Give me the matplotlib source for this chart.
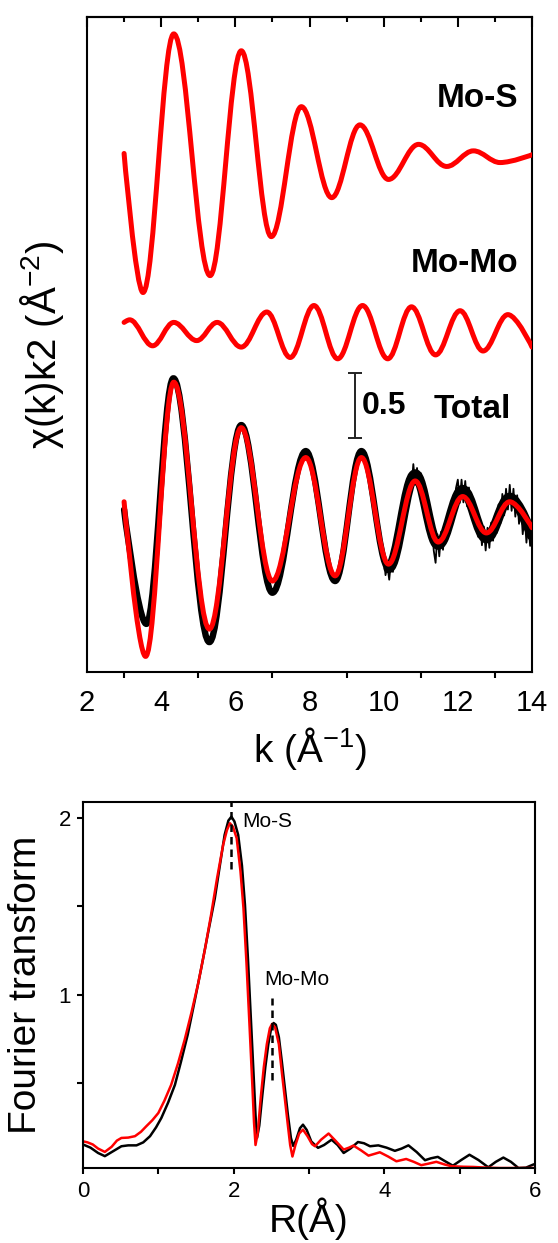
import matplotlib
matplotlib.use("Agg")
import matplotlib.pyplot as plt
from matplotlib.path import Path
from matplotlib.patches import PathPatch

plt.rcParams["font.family"] = ["Liberation Sans", "DejaVu Sans"]
plt.rcParams["mathtext.default"] = "regular"

RED = "#ff0000"

# --- chi(k)k^2 panel: turning points (k, value incl. offset)
MOS_K = [3.00, 3.51, 4.34, 5.32, 6.16, 6.97, 7.78, 8.60, 9.36, 10.13, 10.94, 11.70,
         12.42, 13.14, 14.0]
MOS_Y = [3.99, 2.92, 4.91, 3.05, 4.78, 3.35, 4.35, 3.65, 4.21, 3.79, 4.06, 3.89,
         4.01, 3.92, 3.98]

MOMO_K = [3.00, 3.15, 3.77, 4.34, 4.96, 5.51, 6.16, 6.85, 7.48, 8.12, 8.76, 9.43,
          10.11, 10.75, 11.40, 12.06, 12.68, 13.35, 14.0]
MOMO_Y = [2.69, 2.71, 2.51, 2.69, 2.55, 2.69, 2.50, 2.77, 2.42, 2.82, 2.41, 2.82,
          2.41, 2.81, 2.44, 2.78, 2.47, 2.75, 2.50]

FIT_K = [3.00, 3.58, 4.34, 5.30, 6.16, 7.00, 7.90, 8.69, 9.40, 10.13, 10.85, 11.47,
         12.13, 12.77, 13.40, 14.0]
FIT_Y = [1.31, 0.12, 2.23, 0.33, 1.88, 0.70, 1.65, 0.74, 1.65, 0.83, 1.47, 1.00,
         1.35, 1.07, 1.31, 1.11]

DATA_K = [3.00, 3.60, 4.33, 5.30, 6.16, 7.00, 7.90, 8.69, 9.40, 10.13, 10.85, 11.47,
          12.13, 12.77, 13.40, 14.0]
DATA_Y = [1.25, 0.37, 2.26, 0.23, 1.90, 0.61, 1.70, 0.70, 1.70, 0.80, 1.52, 0.98,
          1.40, 1.03, 1.34, 1.05]

# noisy high-k part of the measured data
NOISE_K = [10.00, 10.05, 10.10, 10.15, 10.20, 10.25, 10.30, 10.35, 10.40, 10.45,
           10.50, 10.55, 10.60, 10.65, 10.70, 10.75, 10.80, 10.85, 10.90, 10.95,
           11.00, 11.05, 11.10, 11.15, 11.20, 11.25, 11.30, 11.35, 11.40, 11.45,
           11.50, 11.55, 11.60, 11.65, 11.70, 11.75, 11.80, 11.85, 11.90, 11.95,
           12.00, 12.05, 12.10, 12.15, 12.20, 12.25, 12.30, 12.35, 12.40, 12.45,
           12.50, 12.55, 12.60, 12.65, 12.70, 12.75, 12.80, 12.85, 12.90, 12.95,
           13.00, 13.05, 13.10, 13.15, 13.20, 13.25, 13.30, 13.35, 13.40, 13.45,
           13.50, 13.55, 13.60, 13.65, 13.70, 13.75, 13.80, 13.85, 13.90, 13.95,
           14.00]
NOISE_Y = [0.90, 0.745, 0.82, 0.71, 0.86, 0.77, 0.95, 0.865, 1.07, 1.01,
           1.25, 1.175, 1.39, 1.32, 1.52, 1.415, 1.60, 1.44, 1.57, 1.39,
           1.53, 1.32, 1.41, 1.185, 1.29, 1.055, 1.15, 0.935, 0.84, 1.06,
           0.89, 1.08, 0.94, 1.145, 1.01, 1.22, 1.10, 1.32, 1.22, 1.415,
           1.48, 1.30, 1.48, 1.305, 1.47, 1.275, 1.42, 1.21, 1.34, 1.135,
           1.26, 1.04, 1.17, 0.975, 1.12, 0.935, 1.11, 0.955, 1.15, 1.01,
           1.21, 1.07, 1.29, 1.145, 1.37, 1.205, 1.41, 1.25, 1.44, 1.24,
           1.41, 1.195, 1.36, 1.14, 1.285, 1.06, 1.21, 0.995, 1.16, 0.97,
           1.11]

SCALE_BAR_K = 9.22
SCALE_BAR_MID = 2.05
SCALE_BAR_LEN = 0.5

# --- Fourier transform panel
FT_R_DATA = [0.00, 0.10, 0.20, 0.29, 0.40, 0.51, 0.60, 0.71, 0.80, 0.89,
             0.97, 1.04, 1.13, 1.22, 1.30, 1.39, 1.48, 1.57, 1.66, 1.75,
             1.82, 1.88, 1.93, 1.97, 2.01, 2.06, 2.11, 2.15, 2.19, 2.23,
             2.27, 2.29, 2.31, 2.34, 2.38, 2.42, 2.46, 2.50, 2.53, 2.56,
             2.60, 2.64, 2.68, 2.72, 2.76, 2.79, 2.83, 2.88, 2.92, 2.97,
             3.03, 3.12, 3.20, 3.30, 3.38, 3.46, 3.55, 3.65, 3.73, 3.81,
             3.92, 4.03, 4.14, 4.23, 4.32, 4.43, 4.54, 4.62, 4.71, 4.80,
             4.91, 5.02, 5.13, 5.25, 5.38, 5.48, 5.58, 5.68, 5.78, 5.88,
             5.98, 6.00]
FT_DATA = [0.153, 0.135, 0.105, 0.087, 0.115, 0.143, 0.148, 0.148, 0.165, 0.200,
           0.250, 0.303, 0.390, 0.490, 0.620, 0.774, 0.960, 1.151, 1.350, 1.546,
           1.740, 1.904, 1.985, 2.007, 1.980, 1.904, 1.730, 1.508, 1.200, 0.850,
           0.500, 0.320, 0.190, 0.260, 0.430, 0.590, 0.720, 0.815, 0.840, 0.830,
           0.760, 0.620, 0.470, 0.320, 0.190, 0.145, 0.180, 0.245, 0.265, 0.235,
           0.170, 0.134, 0.150, 0.180, 0.150, 0.105, 0.130, 0.167, 0.160, 0.143,
           0.148, 0.135, 0.117, 0.130, 0.148, 0.110, 0.064, 0.075, 0.083, 0.060,
           0.033, 0.065, 0.095, 0.065, 0.024, 0.055, 0.079, 0.055, 0.020, 0.022,
           0.040, 0.042]

FT_R_FIT = [0.00, 0.06, 0.13, 0.20, 0.29, 0.38, 0.45, 0.51, 0.60, 0.69,
            0.77, 0.84, 0.92, 1.00, 1.08, 1.17, 1.26, 1.35, 1.44, 1.53,
            1.62, 1.70, 1.78, 1.86, 1.91, 1.95, 1.99, 2.04, 2.09, 2.13,
            2.17, 2.21, 2.25, 2.27, 2.29, 2.32, 2.36, 2.40, 2.44, 2.48,
            2.51, 2.55, 2.60, 2.64, 2.68, 2.72, 2.75, 2.78, 2.82, 2.87,
            2.92, 2.98, 3.04, 3.08, 3.16, 3.26, 3.35, 3.46, 3.53, 3.59,
            3.69, 3.79, 3.87, 3.94, 4.05, 4.16, 4.23, 4.29, 4.39, 4.49,
            4.59, 4.69, 4.80, 4.89, 5.05, 5.18, 5.35, 5.53, 5.80, 6.00]
FT_FIT = [0.171, 0.165, 0.153, 0.130, 0.111, 0.140, 0.175, 0.190, 0.192, 0.200,
          0.225, 0.256, 0.290, 0.331, 0.400, 0.490, 0.610, 0.746, 0.900, 1.066,
          1.260, 1.452, 1.660, 1.847, 1.930, 1.970, 1.950, 1.885, 1.700, 1.490,
          1.180, 0.830, 0.470, 0.280, 0.150, 0.220, 0.420, 0.590, 0.720, 0.810,
          0.835, 0.815, 0.720, 0.560, 0.410, 0.260, 0.150, 0.085, 0.150, 0.215,
          0.237, 0.200, 0.155, 0.143, 0.180, 0.215, 0.175, 0.124, 0.135, 0.147,
          0.120, 0.090, 0.100, 0.109, 0.085, 0.058, 0.065, 0.071, 0.055, 0.036,
          0.045, 0.055, 0.040, 0.030, 0.027, 0.026, 0.022, 0.020, 0.020, 0.020]

PEAK_LABELS = ["Mo-S", "Mo-Mo"]
PEAK_R = [1.96, 2.51]
PEAK_DASH = [(1.71, 2.09), (0.52, 0.98)]
PEAK_TEXT_XY = [(2.12, 1.98), (2.40, 1.085)]

W, H = 558, 1243
fig = plt.figure(figsize=(W / 100, H / 100), dpi=100)


def px_rect(left, top, right, bottom):
    return [left / W, 1 - bottom / H, (right - left) / W, (bottom - top) / H]


def smooth_line(ax, ks, ys, free_start=True, free_end=True, **kw):
    # smooth curve through the turning points (flat tangent at each extremum)
    verts = [(ks[0], ys[0])]
    codes = [Path.MOVETO]
    n = len(ks)
    for i in range(n - 1):
        k0, y0, k1, y1 = ks[i], ys[i], ks[i + 1], ys[i + 1]
        dk = k1 - k0
        c0 = (k0, y0) if (i == 0 and free_start) else (k0 + 0.363 * dk, y0)
        c1 = (k1, y1) if (i == n - 2 and free_end) else (k1 - 0.363 * dk, y1)
        verts += [c0, c1, (k1, y1)]
        codes += [Path.CURVE4] * 3
    patch = PathPatch(Path(verts, codes), fill=False, capstyle="round",
                      joinstyle="round", **kw)
    ax.add_patch(patch)
    return patch


# ---------------- top panel
ax1 = fig.add_axes(px_rect(87, 17, 532, 672))
smooth_line(ax1, MOS_K, MOS_Y, edgecolor=RED, lw=3.6, zorder=3)
smooth_line(ax1, MOMO_K, MOMO_Y, edgecolor=RED, lw=3.6, zorder=3)
smooth_line(ax1, DATA_K, DATA_Y, edgecolor="black", lw=4.6, zorder=2)
i_hi = DATA_K.index(10.13)
smooth_line(ax1, DATA_K[i_hi:], DATA_Y[i_hi:], free_start=False,
            edgecolor="black", lw=7.5, zorder=2)
ax1.plot(NOISE_K, NOISE_Y, color="black", lw=1.3, zorder=2.5)
smooth_line(ax1, FIT_K, FIT_Y, edgecolor=RED, lw=3.6, zorder=3)
ax1.errorbar(SCALE_BAR_K, SCALE_BAR_MID, yerr=SCALE_BAR_LEN / 2, color="#222222",
             lw=1.4, capsize=5, capthick=1.4)

ax1.set_xlim(2, 14)
ax1.set_ylim(0, 5.04)
ax1.set_yticks([])
ax1.set_xticks(range(2, 15, 2))
ax1.set_xticks(range(3, 14, 2), minor=True)
ax1.tick_params(axis="x", which="major", length=0, pad=12, labelsize=21)
ax1.tick_params(axis="x", which="minor", direction="out", length=4.5, width=1.5)
for s in ax1.spines.values():
    s.set_linewidth(1.5)
top = ax1.secondary_xaxis("top")
top.set_xticks(range(2, 15, 2))
top.set_xticks(range(3, 14, 2), minor=True)
top.tick_params(which="major", direction="in", length=7, width=1.5, labeltop=False)
top.tick_params(which="minor", direction="in", length=3.5, width=1.5)
top.spines["top"].set_linewidth(1.5)

bold = dict(fontsize=24, fontweight="bold", va="center")
ax1.text(13.62, 4.41, "Mo-S", ha="right", **bold)
ax1.text(13.62, 3.14, "Mo-Mo", ha="right", **bold)
ax1.text(9.41, 2.05, "0.5", ha="left", fontsize=23, fontweight="bold",
         va="center")
ax1.text(11.36, 2.02, "Total", ha="left", **bold)

fig.text(42 / W, 1 - 345 / H, "χ(k)k2 (Å$^{-2}$)", rotation=90,
         ha="center", va="center", fontsize=29)
fig.text(310 / W, 1 - 748 / H, "k (Å$^{-1}$)", ha="center", va="center",
         fontsize=28)

# ---------------- bottom panel
ax2 = fig.add_axes(px_rect(83, 802, 535, 1168))
ax2.plot(FT_R_DATA, FT_DATA, color="black", lw=1.8, solid_joinstyle="round")
ax2.plot(FT_R_FIT, FT_FIT, color=RED, lw=1.8, solid_joinstyle="round")
for r, (y0, y1) in zip(PEAK_R, PEAK_DASH):
    ax2.vlines(r, y0, y1, colors="black", linestyles=(0, (3, 2)), lw=1.8)
for lab, (x, y) in zip(PEAK_LABELS, PEAK_TEXT_XY):
    ax2.text(x, y, lab, fontsize=15, ha="left", va="center")

ax2.set_xlim(0, 6)
ax2.set_ylim(0.02, 2.09)
ax2.set_xticks([0, 2, 4, 6])
ax2.set_xticks([1, 3, 5], minor=True)
ax2.set_yticks([1, 2])
ax2.set_yticks([0.5, 1.5], minor=True)
ax2.tick_params(which="both", direction="out", length=4.5, width=1.5,
                labelsize=16)
ax2.tick_params(axis="x", pad=5)
ax2.tick_params(axis="y", pad=4)
for s in ax2.spines.values():
    s.set_linewidth(1.5)

fig.text(26 / W, 1 - 985 / H, "Fourier transform", rotation=90,
         ha="center", va="center", fontsize=28)
fig.text(309 / W, 1 - 1219 / H, "R(Å)", ha="center", va="center", fontsize=28)

fig.savefig("out.png", dpi=100)
